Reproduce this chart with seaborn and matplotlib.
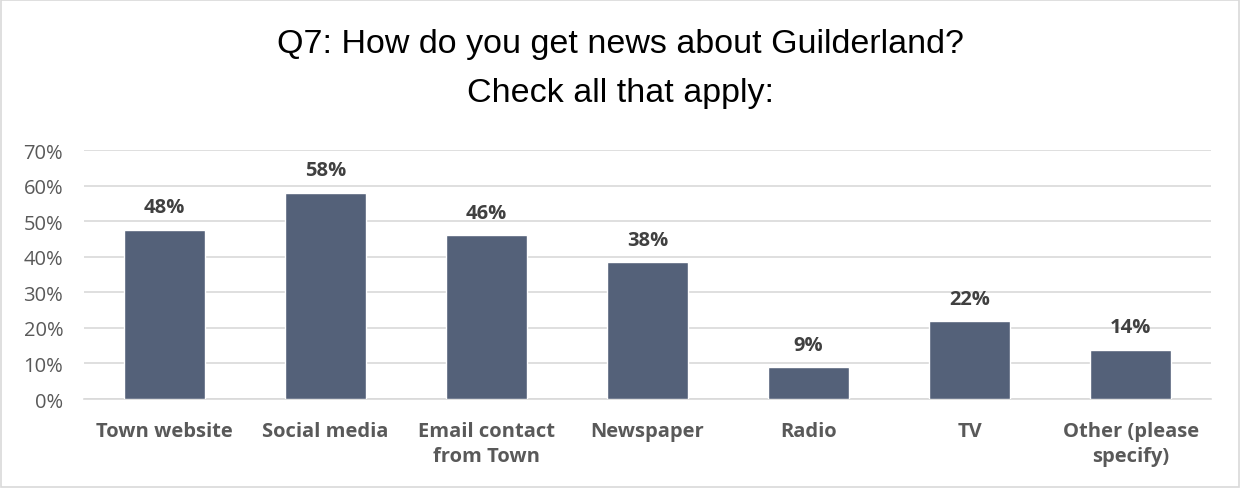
import matplotlib
matplotlib.use("Agg")
import matplotlib.pyplot as plt
import seaborn as sns
import pandas as pd
from matplotlib.patches import Rectangle

categories = ["Town website", "Social media", "Email contact\nfrom Town", "Newspaper",
              "Radio", "TV", "Other (please\nspecify)"]
values = [47.6, 58.0, 46.0, 38.4, 8.9, 21.9, 13.9]
value_labels = ["48%", "58%", "46%", "38%", "9%", "22%", "14%"]
yticks = [0, 10, 20, 30, 40, 50, 60, 70]
ytick_labels = ["0%", "10%", "20%", "30%", "40%", "50%", "60%", "70%"]
title = "Q7: How do you get news about Guilderland?\nCheck all that apply:"

sns.set_theme(style="white")
plt.rcParams['font.family'] = ['Open Sans', 'DejaVu Sans']

df = pd.DataFrame({"cat": categories, "val": values})

fig = plt.figure(figsize=(12.41, 4.89), dpi=100)
ax = fig.add_axes([0.0677, 0.182, 0.976 - 0.0677, 0.691 - 0.182])

sns.barplot(data=df, x="cat", y="val", color="#546179", width=0.5, ax=ax,
            saturation=1, zorder=3)

ax.set_ylim(0, 70)
ax.set_xlim(-0.5, len(categories) - 0.5)
ax.set_yticks(yticks)
ax.set_yticklabels(ytick_labels, fontsize=14.5, color="#595959")
ax.yaxis.grid(True, color="#d9d9d9", linewidth=1.2, zorder=0)
ax.set_axisbelow(True)
ax.set_xlabel("")
ax.set_ylabel("")
for s in ["top", "right", "left"]:
    ax.spines[s].set_visible(False)
ax.spines["bottom"].set_color("#d9d9d9")
ax.spines["bottom"].set_linewidth(1.2)
ax.tick_params(axis="y", length=0, pad=15)
ax.tick_params(axis="x", length=0, pad=16)
for lbl in ax.get_xticklabels():
    lbl.set_fontsize(14.5)
    lbl.set_fontweight("bold")
    lbl.set_color("#595959")
    lbl.set_linespacing(1.35)

for i, (v, t) in enumerate(zip(values, value_labels)):
    ax.annotate(t, (i, v), xytext=(0, 9), textcoords="offset points",
                ha="center", va="bottom", fontsize=14.5, fontweight="bold",
                color="#404040")

fig.text(0.5, 0.94, title, ha="center", va="top", fontsize=24.5,
         family=["Liberation Sans", "DejaVu Sans"], color="#000000", linespacing=1.75)

fig.patches.append(Rectangle((0.001, 0.002), 0.997, 0.996, transform=fig.transFigure,
                             fill=False, edgecolor="#d9d9d9", linewidth=1.2))

fig.savefig("out.png", dpi=100)
